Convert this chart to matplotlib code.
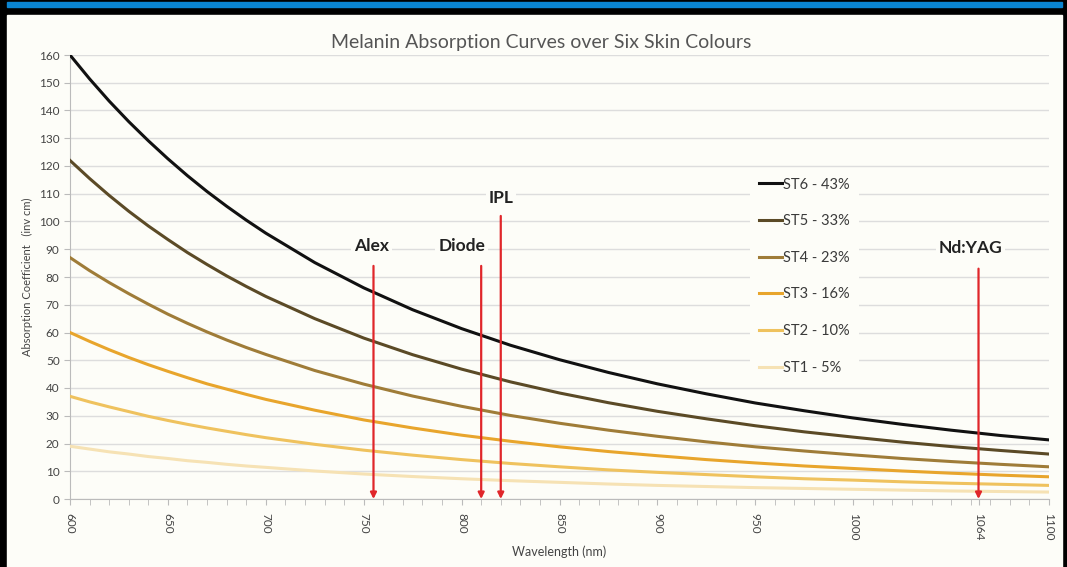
import matplotlib
matplotlib.use("Agg")
import matplotlib.pyplot as plt
from matplotlib.patches import Rectangle

plt.rcParams['font.family'] = ['Lato', 'DejaVu Sans']

# wavelengths (nm) and absorption
wavelength = [600, 610, 620, 630, 640, 650, 660, 670, 680, 690, 700,
              725, 750, 775, 800, 825, 850, 875, 900, 925, 950, 975,
              1000, 1025, 1050, 1075, 1100]
st6 = [160, 151.4, 143.4, 136.0, 129.1, 122.6, 116.5, 110.8, 105.5, 100.5, 95.8,
       85.2, 76.1, 68.2, 61.4, 55.4, 50.2, 45.6, 41.5, 37.9, 34.6, 31.8,
       29.2, 26.9, 24.8, 22.9, 21.3]
st5 = [122, 115.5, 109.4, 103.7, 98.4, 93.5, 88.8, 84.5, 80.4, 76.6, 73.0,
       65.0, 58.0, 52.0, 46.8, 42.2, 38.2, 34.7, 31.6, 28.9, 26.4, 24.2,
       22.3, 20.5, 18.9, 17.5, 16.2]
st4 = [87, 82.3, 78.0, 74.0, 70.2, 66.6, 63.3, 60.2, 57.3, 54.6, 52.1,
       46.3, 41.4, 37.1, 33.4, 30.1, 27.3, 24.8, 22.6, 20.6, 18.8, 17.3,
       15.9, 14.6, 13.5, 12.5, 11.6]
st3 = [60, 56.8, 53.8, 51.0, 48.4, 46.0, 43.7, 41.5, 39.6, 37.7, 35.9,
       32.0, 28.5, 25.6, 23.0, 20.8, 18.8, 17.1, 15.6, 14.2, 13.0, 11.9,
       11.0, 10.1, 9.3, 8.6, 8.0]
st2 = [37, 35.0, 33.2, 31.5, 29.8, 28.3, 26.9, 25.6, 24.4, 23.2, 22.1,
       19.7, 17.6, 15.8, 14.2, 12.8, 11.6, 10.5, 9.6, 8.8, 8.0, 7.3,
       6.8, 6.2, 5.7, 5.3, 4.9]
st1 = [19, 18.0, 17.0, 16.2, 15.3, 14.6, 13.8, 13.2, 12.5, 11.9, 11.4,
       10.1, 9.0, 8.1, 7.3, 6.6, 6.0, 5.4, 4.9, 4.5, 4.1, 3.8,
       3.5, 3.2, 2.9, 2.7, 2.5]

series = [st6, st5, st4, st3, st2, st1]
labels = ["ST6 - 43%", "ST5 - 33%", "ST4 - 23%", "ST3 - 16%", "ST2 - 10%", "ST1 - 5%"]
colors = ["#111111", "#5b4a26", "#9f7c38", "#e8a52c", "#efc25e", "#f6e2b4"]

# lasers: name, wavelength, arrow top, label position
lasers = ["Alex", "Diode", "IPL", "Nd:YAG"]
laser_nm = [755, 810, 820, 1064]
arrow_top = [84, 84, 102, 83]
label_x = [754, 800, 820, 1060]
label_y = [91, 91, 108.5, 90.5]

xticks = [600, 650, 700, 750, 800, 850, 900, 950, 1000, 1064, 1100]

panel = "#fdfdf8"
fig = plt.figure(figsize=(10.67, 5.67), dpi=100, facecolor="black")
fig.patches.append(Rectangle((7 / 1067, 0), 1055 / 1067, 552 / 567,
                             transform=fig.transFigure, color=panel, zorder=-2))
fig.patches.append(Rectangle((7 / 1067, 560 / 567), 1055 / 1067, 5 / 567,
                             transform=fig.transFigure, color="#0a84d0", zorder=-2))

ax = fig.add_axes([70 / 1067, 68 / 567, 979 / 1067, 444 / 567])
ax.set_facecolor(panel)

for s, lab, c in zip(series, labels, colors):
    ax.plot(wavelength, s, color=c, lw=2.2, label=lab, zorder=3,
            solid_joinstyle="round")

for name, nm, top, lx, ly in zip(lasers, laser_nm, arrow_top, label_x, label_y):
    ax.annotate("", xy=(nm, 0), xytext=(nm, top),
                arrowprops=dict(arrowstyle="-|>", color="#e0262a", lw=1.6,
                                mutation_scale=9, shrinkA=0, shrinkB=0), zorder=5)
    ax.text(lx, ly, name, ha="center", va="center", fontsize=12.5,
            fontweight="bold", color="#222222", zorder=5,
            bbox=dict(facecolor=panel, edgecolor="none", pad=2))

ax.set_xlim(600, 1100)
ax.set_ylim(0, 160)
ax.set_yticks(range(0, 161, 10))
ax.set_xticks(xticks)
ax.set_xticks(range(600, 1101, 10), minor=True)
ax.tick_params(axis="x", which="both", direction="out", length=4, color="#bbbbbb",
               labelsize=8.5, labelcolor="#444444", labelrotation=-90, pad=6)
ax.tick_params(axis="y", direction="out", length=4, color="#bbbbbb",
               labelsize=8.5, labelcolor="#444444")
ax.grid(axis="y", color="#dddddd", lw=1)
ax.set_axisbelow(True)
for side in ["top", "right"]:
    ax.spines[side].set_visible(False)
ax.spines["left"].set_color("#bbbbbb")
ax.spines["bottom"].set_color("#bbbbbb")

ax.set_title("Melanin Absorption Curves over Six Skin Colours", fontsize=14,
             color="#555555", pad=5, x=0.481)
ax.set_xlabel("Wavelength (nm)", fontsize=9, color="#444444", labelpad=4)
ax.set_ylabel("Absorption Coefficient   (inv cm)", fontsize=8, color="#444444")

leg = ax.legend(loc="upper left", bbox_to_anchor=(0.687, 0.76), frameon=True,
                facecolor=panel, edgecolor="none", fontsize=10.5, handlelength=1.6,
                handletextpad=0.1, labelspacing=1.55, borderpad=0.6)
leg.set_zorder(4)
for t in leg.get_texts():
    t.set_color("#3a3a3a")
leg.get_frame().set_alpha(1)

fig.savefig("out.png", dpi=100, facecolor=fig.get_facecolor())
